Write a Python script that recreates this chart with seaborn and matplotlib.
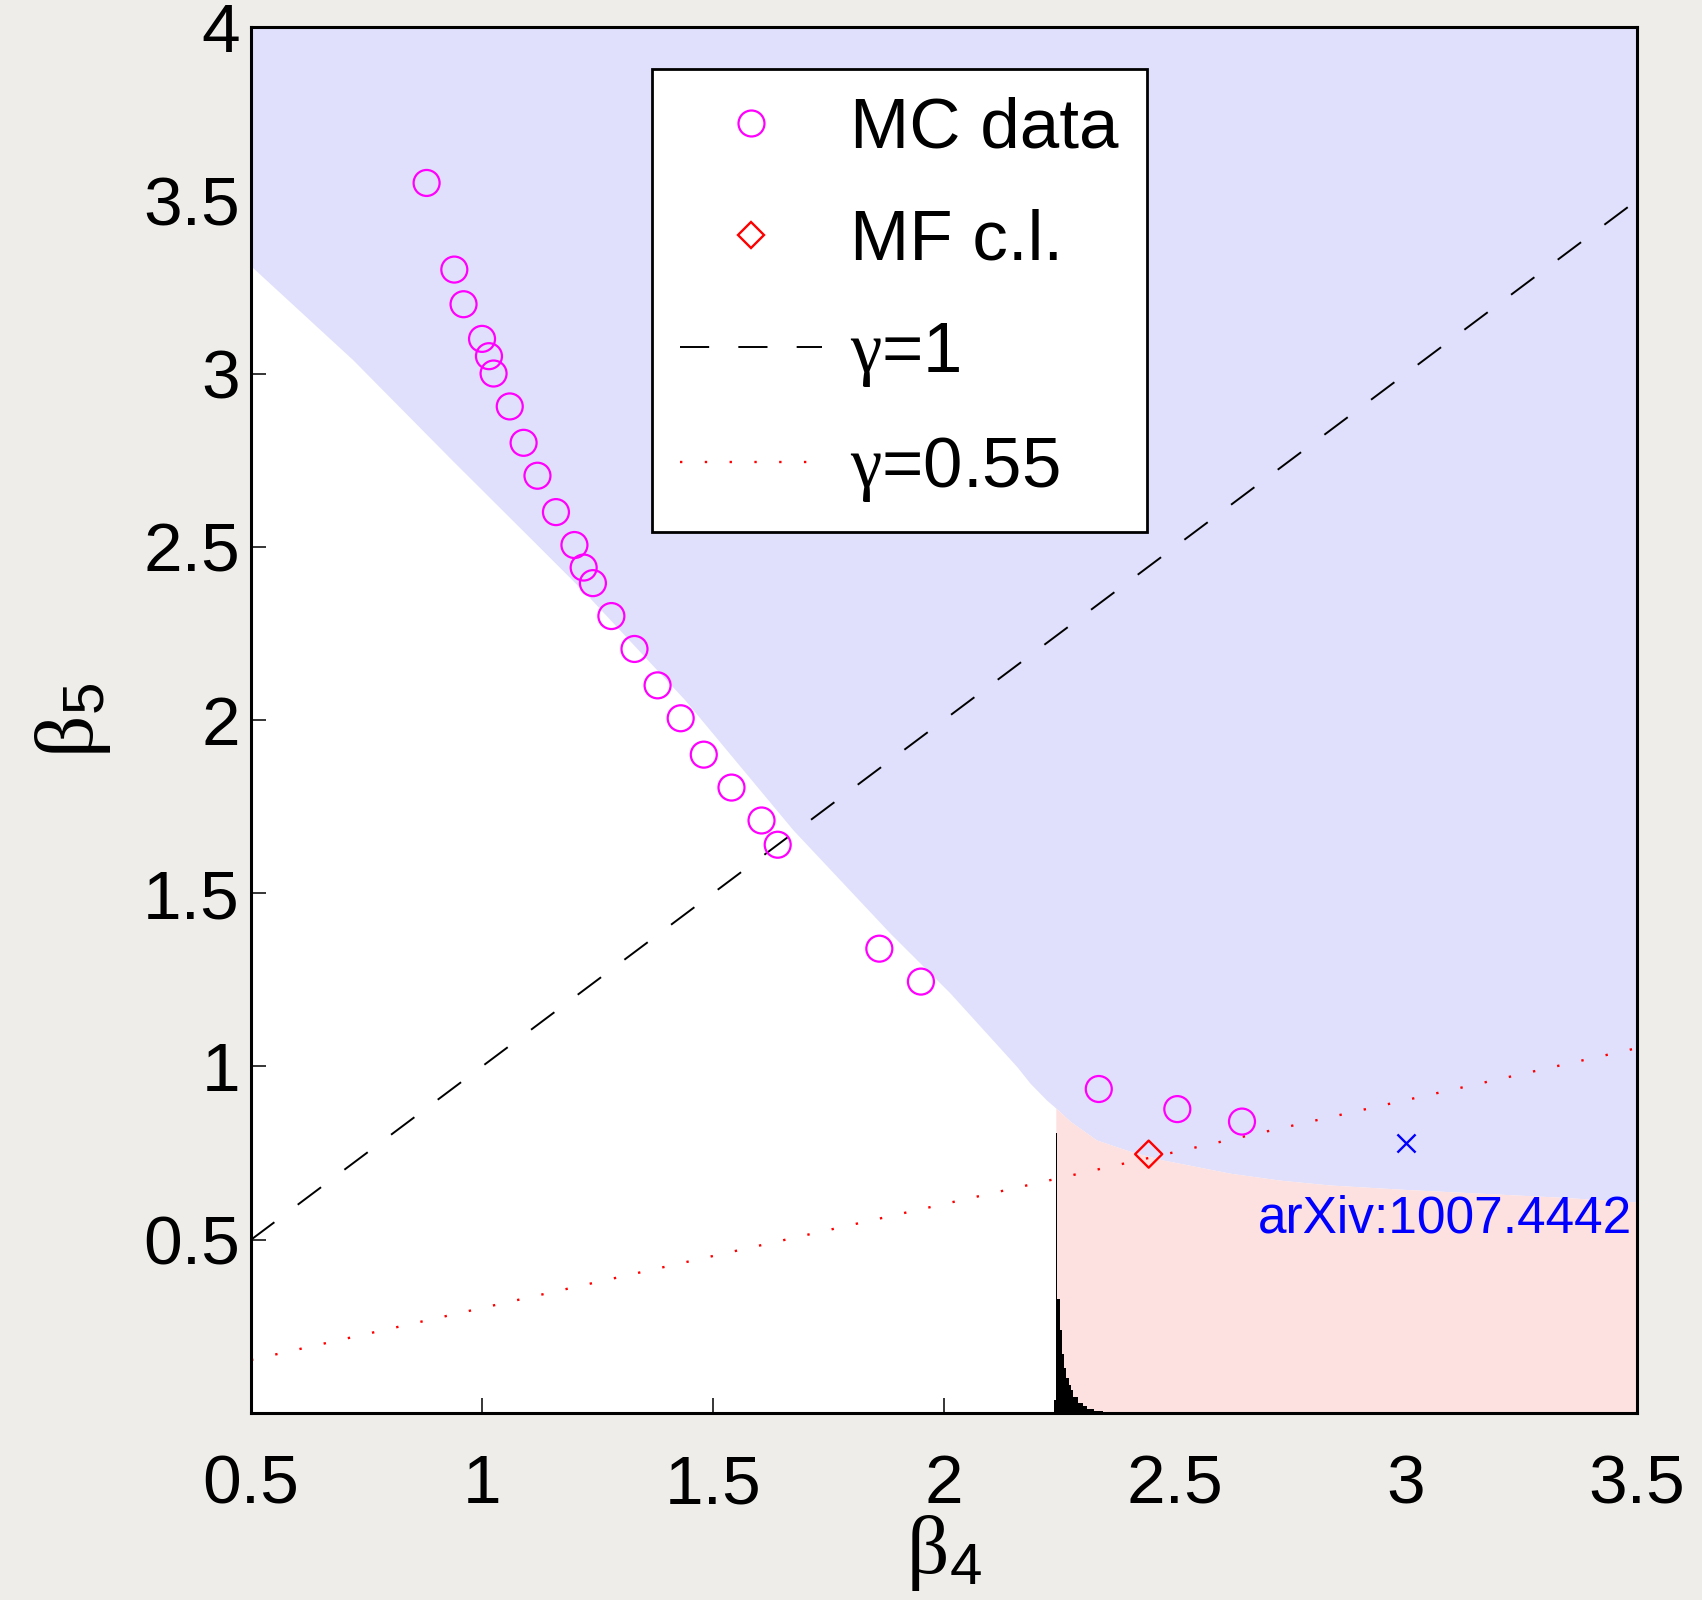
import numpy as np
import matplotlib
matplotlib.use("Agg")
import matplotlib.pyplot as plt
from matplotlib.lines import Line2D
import seaborn as sns

# Monte Carlo points
mc_b4 = [0.88, 0.94, 0.96, 1.00, 1.015, 1.025, 1.06, 1.09, 1.12, 1.16, 1.20, 1.22, 1.24,
         1.28, 1.33, 1.38, 1.43, 1.48, 1.54, 1.605, 1.64, 1.86, 1.95, 2.335, 2.505, 2.645]
mc_b5 = [3.55, 3.30, 3.20, 3.10, 3.05, 3.00, 2.905, 2.80, 2.705, 2.60, 2.505, 2.44, 2.395,
         2.30, 2.205, 2.10, 2.005, 1.90, 1.805, 1.71, 1.64, 1.34, 1.245, 0.935, 0.877, 0.841]

# mean field critical line point, reference point
mf_b4 = [2.443]
mf_b5 = [0.747]
ref_b4 = [3.0]
ref_b5 = [0.78]

# gamma lines
g1_b4 = [0.5, 3.5]
g1_b5 = [0.5, 3.5]
g055_b4 = [0.5, 3.5]
g055_b5 = [0.153, 1.053]

# phase boundary (upper edge of the white / pink regions)
bnd_b4 = [0.5, 0.72, 0.935, 1.115, 1.223, 1.439, 1.673, 1.883, 2.013, 2.158, 2.186,
          2.222, 2.242, 2.273, 2.33, 2.403, 2.474, 2.547, 2.619, 2.727, 2.835,
          3.0, 3.33, 3.5]
bnd_b5 = [3.31, 3.04, 2.75, 2.511, 2.367, 2.058, 1.683, 1.385, 1.212, 0.999, 0.952,
          0.903, 0.88, 0.842, 0.788, 0.755, 0.730, 0.711, 0.692, 0.672, 0.658,
          0.645, 0.623, 0.609]
kink_b4 = 2.242

# histogram near the transition
hist_edges = [2.237, 2.242, 2.2435, 2.250, 2.255, 2.260, 2.265, 2.270, 2.275,
              2.280, 2.290, 2.300, 2.310, 2.325, 2.345, 2.365]
hist_vals = [0.037, 0.808, 0.33, 0.24, 0.17, 0.13, 0.10, 0.08, 0.065,
             0.045, 0.03, 0.02, 0.012, 0.006, 0.003]

xticks = [0.5, 1, 1.5, 2, 2.5, 3, 3.5]
yticks = [0.5, 1, 1.5, 2, 2.5, 3, 3.5, 4]

sns.set_style("ticks")
plt.rcParams['font.family'] = ['Liberation Sans', 'DejaVu Sans']
plt.rcParams['mathtext.fontset'] = 'custom'
plt.rcParams['mathtext.rm'] = 'Liberation Serif'
plt.rcParams['mathtext.sf'] = 'Liberation Sans'
plt.rcParams['mathtext.it'] = 'Liberation Serif:italic'
plt.rcParams['text.color'] = 'black'
plt.rcParams['axes.labelcolor'] = 'black'
plt.rcParams['xtick.color'] = 'black'
plt.rcParams['ytick.color'] = 'black'

fig = plt.figure(figsize=(17.02, 16), dpi=100, facecolor='#eeede9')
ax = fig.add_axes([0.1475, 0.1169, 0.8143, 0.8662])
ax.set_facecolor('white')

bx = np.array(bnd_b4)
by = np.array(bnd_b5)
ax.fill_between(bx, by, 4, color='#e0e0fc', lw=0, zorder=1)
right = bx >= kink_b4
ax.fill_between(bx[right], 0, by[right], color='#fde0e0', lw=0, zorder=1)

ax.stairs(hist_vals, hist_edges, fill=True, color='black', zorder=2)

sns.lineplot(x=g1_b4, y=g1_b5, ax=ax, color='black', lw=1.4,
             linestyle=(0, (15, 15)), zorder=3)
sns.lineplot(x=g055_b4, y=g055_b5, ax=ax, color='red', lw=1.7,
             linestyle=(0, (1, 9.5)), zorder=3)

sns.scatterplot(x=mc_b4, y=mc_b5, ax=ax, marker='o', s=350, facecolor='none',
                edgecolor='#ff00ff', linewidth=1.6, zorder=4)
sns.scatterplot(x=mf_b4, y=mf_b5, ax=ax, marker='D', s=190, facecolor='none',
                edgecolor='red', linewidth=1.7, zorder=4)
sns.scatterplot(x=ref_b4, y=ref_b5, ax=ax, marker='x', s=170, color='blue',
                linewidth=1.7, zorder=4)

ax.text(3.49, 0.52, 'arXiv:1007.4442', color='blue', fontsize=37,
        ha='right', va='baseline', zorder=5)

ax.set_xlim(0.5, 3.5)
ax.set_ylim(0, 4)
ax.set_xticks(xticks)
ax.set_xticklabels([f'{t:g}' for t in xticks])
ax.set_yticks(yticks)
ax.set_yticklabels([f'{t:g}' for t in yticks])
ax.tick_params(direction='in', length=11, width=1.1, top=True, right=True,
               labelsize=50, color='black', labelcolor='black')
ax.tick_params(axis='x', pad=29)
ax.tick_params(axis='y', pad=8)
for sp in ax.spines.values():
    sp.set_linewidth(2.2)
    sp.set_color('black')
    sp.set_zorder(6)

ax.set_xlabel(r'$\mathrm{\beta}_\mathsf{4}$', fontsize=60, labelpad=-3)
ax.set_ylabel(r'$\mathrm{\beta}_\mathsf{5}$', fontsize=60, labelpad=22)

handles = [
    Line2D([], [], ls='none', marker='o', ms=18.7, mfc='none', mec='#ff00ff', mew=1.6),
    Line2D([], [], ls='none', marker='D', ms=13.5, mfc='none', mec='red', mew=1.7),
    Line2D([], [], color='black', lw=1.4, ls=(0, (15, 15))),
    Line2D([], [], color='red', lw=1.7, ls=(0, (1, 9.5))),
]
labels = ['MC data', 'MF c.l.', r'$\mathrm{\gamma}$=1', r'$\mathrm{\gamma}$=0.55']
leg = ax.legend(handles, labels, loc='upper left', bbox_to_anchor=(0.289, 0.970),
                borderaxespad=0, fontsize=51, handlelength=2.0, handletextpad=0.4,
                borderpad=0.4, labelspacing=0.65, fancybox=False, framealpha=1,
                edgecolor='black', facecolor='white')
leg.get_frame().set_linewidth(2)
leg.set_zorder(7)

fig.savefig('out.png', dpi=100, facecolor=fig.get_facecolor())
